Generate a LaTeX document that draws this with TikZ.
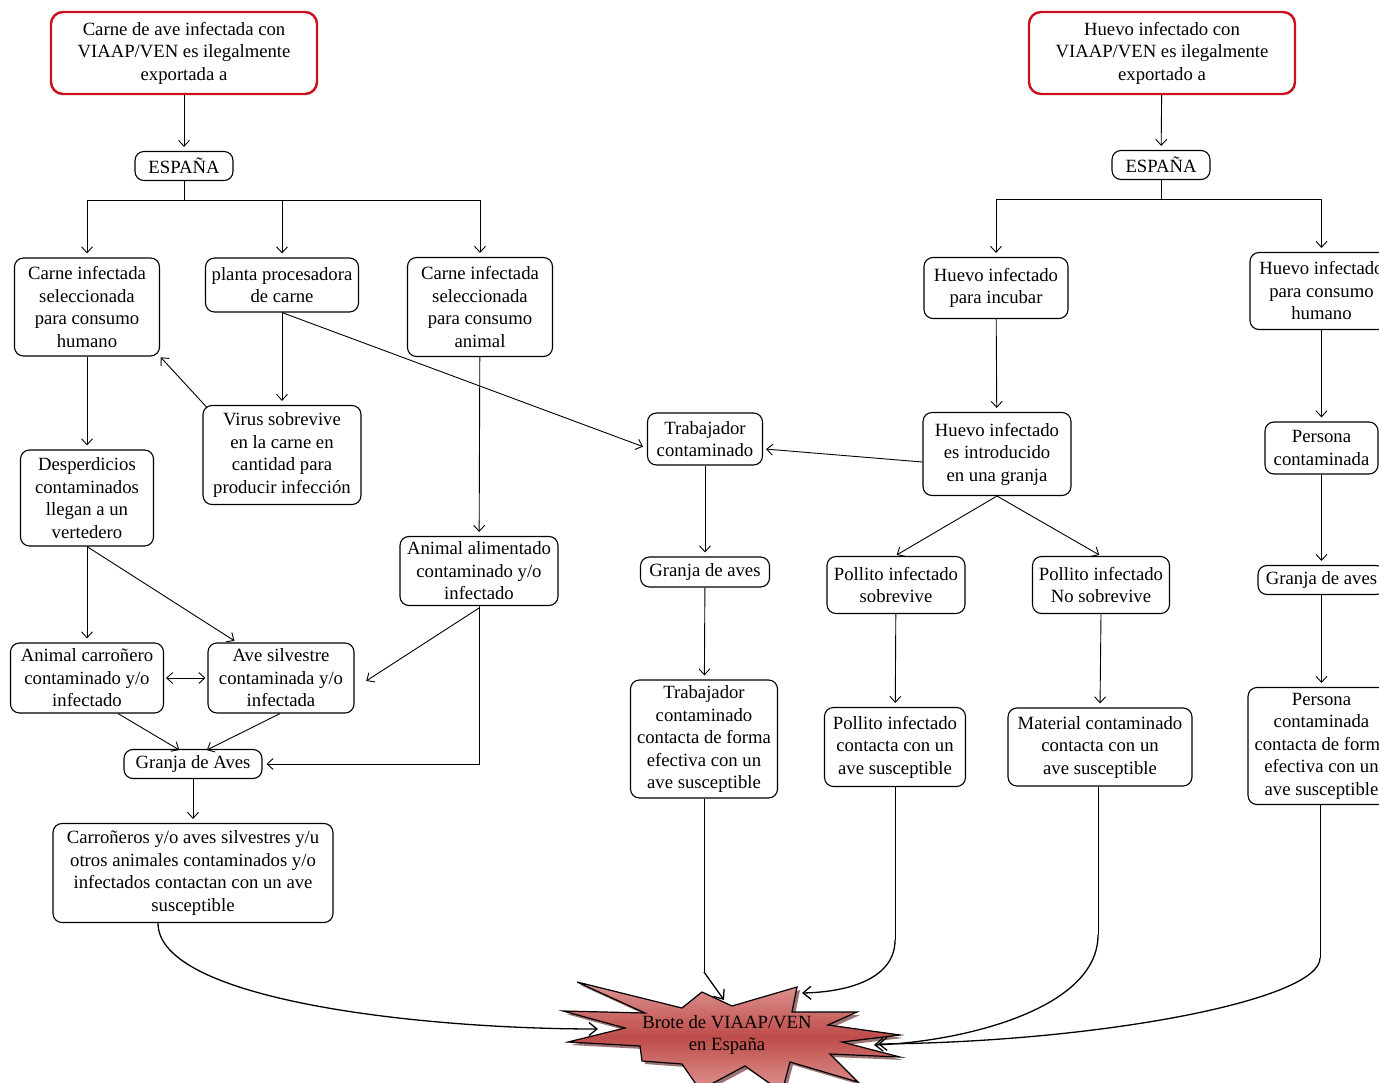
\documentclass[tikz,border=0pt]{standalone}
\usepackage{fontspec}
\setmainfont{Liberation Serif}
\usetikzlibrary{arrows.meta}
\definecolor{boxred}{RGB}{200,16,30}
\definecolor{starlight}{RGB}{222,150,148}
\definecolor{starmid}{RGB}{190,76,73}
\definecolor{starshadow}{RGB}{90,20,20}
\begin{document}
\begin{tikzpicture}[x=1pt,y=-1pt,
  every node/.style={font=\fontsize{18.7}{22.5}\selectfont, align=center, inner sep=0pt},
  box/.style={draw, line width=1.1pt, rounded corners=9pt},
  redbox/.style={draw=boxred, line width=2.4pt, rounded corners=12pt},
  arr/.style={-{Straight Barb[length=6pt,width=11pt]}, line width=0.9pt, shorten >=4pt},
  dbl/.style={{Straight Barb[length=6pt,width=11pt]}-{Straight Barb[length=6pt,width=11pt]}, line width=0.9pt, shorten >=2pt, shorten <=2pt},
  link/.style={line width=0.9pt},
  hit/.style={-{Straight Barb[length=8pt,width=13pt]}, line width=1.3pt}]
\clip (0,0) rectangle (1379,1083);

% ---------- meat branch ----------
\node[redbox, minimum width=266pt, minimum height=82pt] (redL) at (184,53) {Carne de ave infectada con\\VIAAP/VEN es ilegalmente\\exportada a};
\node[box, minimum width=98pt, minimum height=29pt] (espL) at (184,166) {ESPAÑA};
\node[box, minimum width=145pt, minimum height=98pt] (A1) at (87,307) {Carne infectada\\seleccionada\\para consumo\\humano};
\node[box, minimum width=153pt, minimum height=54pt] (A2) at (282,285) {planta procesadora\\de carne};
\node[box, minimum width=145pt, minimum height=99pt] (A3) at (480,307) {Carne infectada\\seleccionada\\para consumo\\animal};
\node[box, minimum width=158pt, minimum height=99pt] (virus) at (282,455) {Virus sobrevive\\en la carne en\\cantidad para\\producir infección};
\node[box, minimum width=133pt, minimum height=96pt] (desp) at (87,498) {Desperdicios\\contaminados\\llegan a un\\vertedero};
\node[box, minimum width=158pt, minimum height=69pt] (anal) at (479,571) {Animal alimentado\\contaminado y/o\\infectado};
\node[box, minimum width=153pt, minimum height=70pt] (carr) at (87,678) {Animal carroñero\\contaminado y/o\\infectado};
\node[box, minimum width=146pt, minimum height=70pt] (aves) at (281,678) {Ave silvestre\\contaminada y/o\\infectada};
\node[box, minimum width=138pt, minimum height=29pt] (granjaL) at (193,764) {Granja de Aves};
\node[box, minimum width=280pt, minimum height=99pt] (contact) at (193,873) {Carroñeros y/o aves silvestres y/u\\otros animales contaminados y/o\\infectados contactan con un ave\\susceptible};

% ---------- worker branch ----------
\node[box, minimum width=115pt, minimum height=52pt] (trab) at (705,439) {Trabajador\\contaminado};
\node[box, minimum width=129pt, minimum height=30pt] (granjaM) at (705,572) {Granja de aves};
\node[box, minimum width=147pt, minimum height=118pt] (trab2) at (704,739) {Trabajador\\contaminado\\contacta de forma\\efectiva con un\\ave susceptible};

% ---------- egg branch ----------
\node[redbox, minimum width=266pt, minimum height=82pt] (redR) at (1162,53) {Huevo infectado con\\VIAAP/VEN es ilegalmente\\exportado a};
\node[box, minimum width=98pt, minimum height=29pt] (espR) at (1161,165) {ESPAÑA};
\node[box, minimum width=144pt, minimum height=61pt] (E1) at (996,288) {Huevo infectado\\para incubar};
\node[box, minimum width=143pt, minimum height=77pt] (E2) at (1321.5,291) {Huevo infectado\\para consumo\\humano};
\node[box, minimum width=148pt, minimum height=83pt] (E3) at (997,454) {Huevo infectado\\es introducido\\en una granja};
\node[box, minimum width=138pt, minimum height=57pt] (P1) at (896,585) {Pollito infectado\\sobrevive};
\node[box, minimum width=137pt, minimum height=57pt] (P2) at (1101,585) {Pollito infectado\\No sobrevive};
\node[box, minimum width=141pt, minimum height=79pt] (P3) at (895,747) {Pollito infectado\\contacta con un\\ave susceptible};
\node[box, minimum width=184pt, minimum height=78pt] (mat) at (1100,747) {Material contaminado\\contacta con un\\ave susceptible};
\node[box, minimum width=113pt, minimum height=52pt] (pers) at (1321.5,448) {Persona\\contaminada};
\node[box, minimum width=127pt, minimum height=29pt] (granjaR) at (1321.5,580) {Granja de aves};
\node[box, minimum width=147pt, minimum height=117pt] (pers2) at (1321.5,746) {Persona\\contaminada\\contacta de forma\\efectiva con un\\ave susceptible};

% ---------- outbreak starburst ----------
\def\starpath{(577,982) -- (682,1008) -- (702,992) -- (732,1006) -- (797,987) -- (792,1012)
  -- (857,1012) -- (828,1025) -- (900,1035) -- (842,1042) -- (900,1057) -- (830,1054)
  -- (858,1082) -- (790,1062) -- (782,1092) -- (745,1066) -- (700,1090) -- (682,1064)
  -- (642,1061) -- (640,1046) -- (568,1042) -- (625,1028) -- (563,1011) -- (645,1013) -- cycle}
\fill[starshadow, opacity=0.6, xshift=3pt, yshift=-3pt] \starpath;
\shade[top color=starlight, bottom color=starlight, middle color=starmid, draw=black, line width=1.2pt] \starpath;
\node (brote) at (727,1035) {Brote de VIAAP/VEN\\en España};

\coordinate (inL) at (598,1029);
\coordinate (inT) at (724,1000);
\coordinate (inP) at (802,993);
\coordinate (inM) at (874,1045);
\coordinate (inR) at (878,1044);

% ---------- meat connectors ----------
\draw[arr] (redL) -- (espL);
\coordinate (bL) at (184,200);
\draw[link] (espL.south) -- (bL);
\draw[link] (87,200) -- (480,200);
\draw[arr] (bL) -| (A1.north);
\draw[arr] (bL) -| (A2.north);
\draw[arr] (bL) -| (A3.north);
\draw[arr] (A2.south) -- (virus.north);
\draw[arr, shorten >=1pt] ([shift={(4pt,-2pt)}]virus.north west) -- (A1.south east);
\draw[arr, shorten >=1pt] (A2.south) -- ([shift={(-3pt,-8pt)}]trab.west);
\draw[arr] (A1) -- (desp);
\draw[arr] (A3) -- (anal);
\draw[arr] (desp) -- (carr);
\draw[arr, shorten >=3pt] (desp.south) -- ([xshift=-44pt]aves.north);
\draw[arr, shorten >=2pt] ([yshift=-2pt]anal.south) -- ([shift={(10pt,-4pt)}]aves.east);
\draw[arr] (anal.south) |- (granjaL.east);
\draw[dbl] (carr) -- (aves);
\draw[arr, shorten >=2pt] ([xshift=31pt]carr.south) -- ([xshift=-12pt,yshift=-2pt]granjaL.north);
\draw[arr, shorten >=2pt] ([xshift=-1pt]aves.south) -- ([xshift=12pt,yshift=-2pt]granjaL.north);
\draw[arr] (granjaL) -- (contact);
\draw[hit] ([xshift=-35pt]contact.south) .. controls (158,1000) and (420,1029) .. (inL);

% ---------- worker connectors ----------
\draw[arr] (trab) -- (granjaM);
\draw[arr] (granjaM) -- (trab2);
\coordinate (kT) at (704,972);
\draw[link] (trab2.south) -- (kT);
\draw[hit] (kT) -- (inT);

% ---------- egg connectors ----------
\draw[arr] (redR) -- (espR);
\coordinate (bR) at (1161,199);
\draw[link] (espR.south) -- (bR);
\draw[link] (996,199) -- (1321.5,199);
\draw[arr] (bR) -| (E1.north);
\draw[arr] (bR) -| (E2.north);
\draw[arr] (E1) -- (E3);
\draw[arr, shorten >=1pt] ([yshift=-8pt]E3.west) -- ([shift={(2pt,-10pt)}]trab.east);
\draw[arr, shorten >=2pt] (E3.south) -- ([xshift=-1pt]P1.north);
\draw[arr, shorten >=2pt] (E3.south) -- (P2.north);
\draw[arr] (P1) -- (P3);
\draw[arr] (P2.south) -- (mat.north);
\coordinate (kP) at (895,940);
\draw[link] (P3.south) -- (kP);
\draw[hit] (kP) .. controls (895,978) and (850,992) .. (inP);
\coordinate (kM) at (1098,935);
\draw[link] ([xshift=-2pt]mat.south) -- (kM);
\draw[hit] (kM) .. controls (1098,1010) and (960,1042) .. (inM);
\draw[arr] (E2) -- (pers);
\draw[arr] (pers) -- (granjaR);
\draw[arr] (granjaR) -- (pers2);
\coordinate (kR) at (1320,958);
\draw[link] ([xshift=-1.5pt]pers2.south) -- (kR);
\draw[hit] (kR) .. controls (1320,1000) and (1100,1042) .. (inR);
\end{tikzpicture}
\end{document}
